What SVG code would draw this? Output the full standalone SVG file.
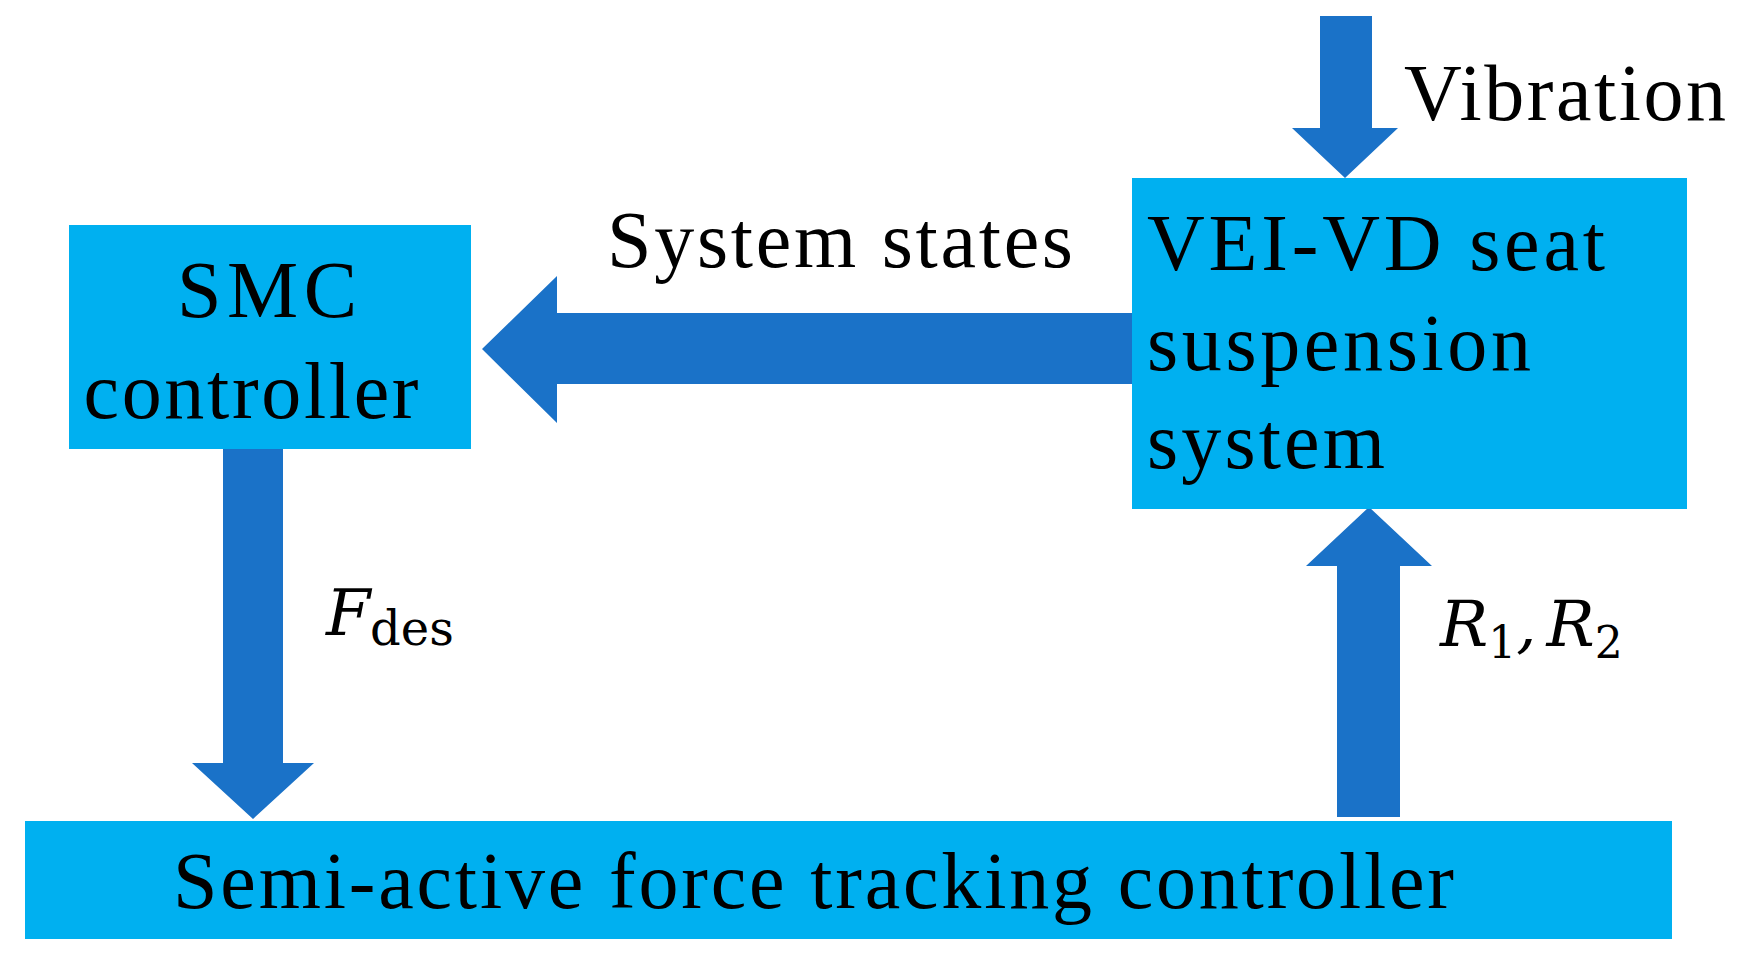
<svg xmlns="http://www.w3.org/2000/svg" width="1738" height="956" viewBox="0 0 1738 956">
<style>
.box{fill:#00B0F0}
.arr{fill:#1A72C8}
.t{font-family:"Liberation Serif","Times New Roman",serif;font-size:80px;fill:#000}
.m{font-family:"DejaVu Serif","Liberation Serif",serif;fill:#000}
</style>
<rect width="1738" height="956" fill="#fff"/>
<g id="connectors">
<polygon class="arr" points="1320,16 1372,16 1372,128 1398,128 1345,178 1292,128 1320,128"/>
<polygon class="arr" points="1138,313 557,313 557,276 482,349 557,423 557,384 1138,384"/>
<polygon class="arr" points="223,449 283,449 283,763 314,763 253,819 192,763 223,763"/>
<polygon class="arr" points="1337,817 1400,817 1400,566 1432,566 1369,507 1306,566 1337,566"/>
</g>
<g id="smc"><rect class="box" x="69" y="225" width="402" height="224"/>
<text class="t" x="267" y="317" text-anchor="middle" textLength="180">SMC</text>
<text class="t" x="251" y="418" text-anchor="middle" textLength="335">controller</text></g>
<g id="vei"><rect class="box" x="1132" y="178" width="555" height="331"/>
<text class="t" x="1147" y="270" textLength="458">VEI-VD seat</text>
<text class="t" x="1147" y="370" textLength="384">suspension</text>
<text class="t" x="1147" y="468" textLength="238">system</text></g>
<g id="tracker"><rect class="box" x="25" y="821" width="1647" height="118"/>
<text class="t" x="173" y="908" textLength="1281">Semi-active force tracking controller</text></g>
<g id="labels">
<text class="t" x="607" y="267" textLength="466">System states</text>
<text class="t" x="1404" y="120" textLength="322">Vibration</text>
<text class="m" x="326" y="635" font-size="64" font-style="italic">F</text>
<text class="m" x="370" y="645" font-size="48">des</text>
<text class="m" x="1440" y="646" font-size="64" font-style="italic">R<tspan font-size="44" font-style="normal" dy="12">1</tspan><tspan font-size="64" dy="-12">,</tspan><tspan font-size="64" dx="10">R</tspan><tspan font-size="44" font-style="normal" dy="12">2</tspan></text>
</g>
</svg>
